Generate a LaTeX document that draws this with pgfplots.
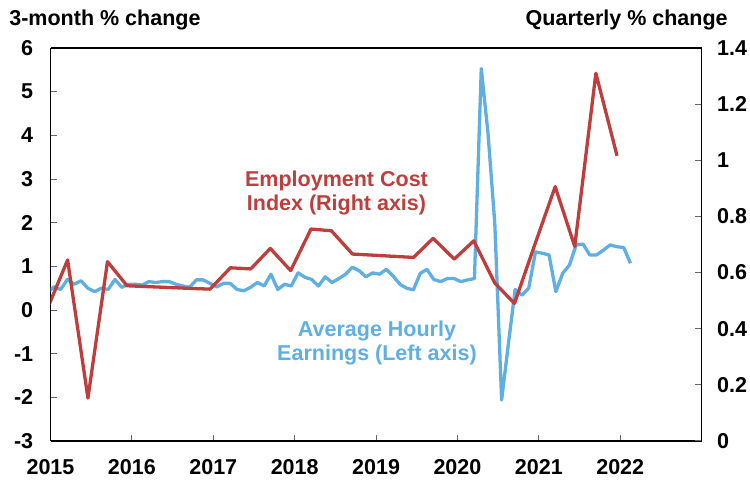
\documentclass[border=0pt]{standalone}
\usepackage{fontspec}
\setmainfont{Liberation Sans}
\usepackage{pgfplots}
\usepackage{pgfplotstable}
\pgfplotsset{compat=1.18}
\definecolor{eciRed}{RGB}{190,62,62}
\definecolor{aheBlue}{RGB}{95,175,225}

% Average hourly earnings, 3-month % change (left axis)
\pgfplotstableread{
t v
2014.958 0.39
2015.042 0.53
2015.125 0.47
2015.208 0.70
2015.292 0.59
2015.375 0.67
2015.458 0.50
2015.542 0.42
2015.625 0.50
2015.708 0.47
2015.792 0.70
2015.875 0.52
2015.958 0.59
2016.042 0.59
2016.125 0.57
2016.208 0.65
2016.292 0.63
2016.375 0.65
2016.458 0.65
2016.542 0.59
2016.625 0.55
2016.708 0.52
2016.792 0.69
2016.875 0.69
2016.958 0.61
2017.042 0.53
2017.125 0.61
2017.208 0.61
2017.292 0.47
2017.375 0.44
2017.458 0.52
2017.542 0.63
2017.625 0.55
2017.708 0.82
2017.792 0.47
2017.875 0.59
2017.958 0.55
2018.042 0.85
2018.125 0.75
2018.208 0.70
2018.292 0.55
2018.375 0.76
2018.458 0.63
2018.542 0.72
2018.625 0.82
2018.708 0.98
2018.792 0.90
2018.875 0.76
2018.958 0.85
2019.042 0.82
2019.125 0.93
2019.208 0.78
2019.292 0.59
2019.375 0.50
2019.458 0.46
2019.542 0.84
2019.625 0.93
2019.708 0.70
2019.792 0.65
2019.875 0.72
2019.958 0.72
2020.042 0.65
2020.125 0.69
2020.208 0.72
2020.292 5.53
2020.375 4.04
2020.458 1.99
2020.542 -2.06
2020.625 -0.78
2020.708 0.47
2020.792 0.34
2020.875 0.50
2020.958 1.33
2021.042 1.30
2021.125 1.26
2021.208 0.42
2021.292 0.84
2021.375 1.03
2021.458 1.49
2021.542 1.51
2021.625 1.26
2021.708 1.26
2021.792 1.37
2021.875 1.49
2021.958 1.45
2022.042 1.43
2022.125 1.07
}\ahe

% Employment cost index, quarterly % change (right axis)
\pgfplotstableread{
t v
2014.96 0.47
2015.21 0.645
2015.46 0.153
2015.70 0.639
2015.94 0.553
2016.19 0.550
2016.44 0.547
2016.69 0.544
2016.96 0.541
2017.21 0.617
2017.46 0.613
2017.70 0.686
2017.95 0.607
2018.20 0.755
2018.45 0.749
2018.71 0.666
2018.96 0.662
2019.21 0.658
2019.46 0.654
2019.70 0.722
2019.96 0.648
2020.20 0.713
2020.46 0.562
2020.70 0.490
2020.95 0.700
2021.20 0.906
2021.44 0.693
2021.70 1.310
2021.96 1.016
}\eci

\begin{document}
\fontsize{21.5bp}{24bp}\selectfont\bfseries
\begin{tikzpicture}
\pgfplotsset{
  base/.style={
    scale only axis, width=651.2bp, height=393bp,
    at={(0,0)}, anchor=south west,
    xmin=2015, xmax=2023,
    tick align=inside, major tick length=6.5bp,
    tick style={line width=1bp, black!60},
    axis line style={line width=1.2bp, black},
    ticklabel style={font=\bfseries\fontsize{21.5bp}{24bp}\selectfont},
    /pgf/number format/assume math mode=true,
  },
}
\begin{axis}[base,
  axis y line*=left, axis x line*=bottom,
  ymin=-3, ymax=6, ytick={-3,-2,...,6},
  xtick={2015,...,2022},
  xticklabel style={/pgf/number format/1000 sep={}, yshift=-11bp},
  yticklabel style={xshift=-10bp},
]
\addplot[aheBlue, line width=3.3bp, line join=round] table {\ahe};
\end{axis}
\begin{axis}[base,
  axis y line*=right, axis x line*=top,
  ymin=0, ymax=1.4, ytick={0,0.2,...,1.4},
  xtick=\empty,
  yticklabel style={xshift=8bp},
]
\addplot[eciRed, line width=3.3bp, line join=round] table {\eci};
\end{axis}
\node[anchor=base west] at (-48.5bp,415bp) {3-month \% change};
\node[anchor=base east] at (684.5bp,415bp) {Quarterly \% change};
\node[eciRed, align=center] at (286bp,248bp) {Employment Cost\\Index (Right axis)};
\node[aheBlue, align=center] at (326.5bp,98bp) {Average Hourly\\Earnings (Left axis)};
\pgfresetboundingbox
\path (-50.5bp,-41bp) rectangle (699.5bp,441bp);
\end{tikzpicture}
\end{document}
